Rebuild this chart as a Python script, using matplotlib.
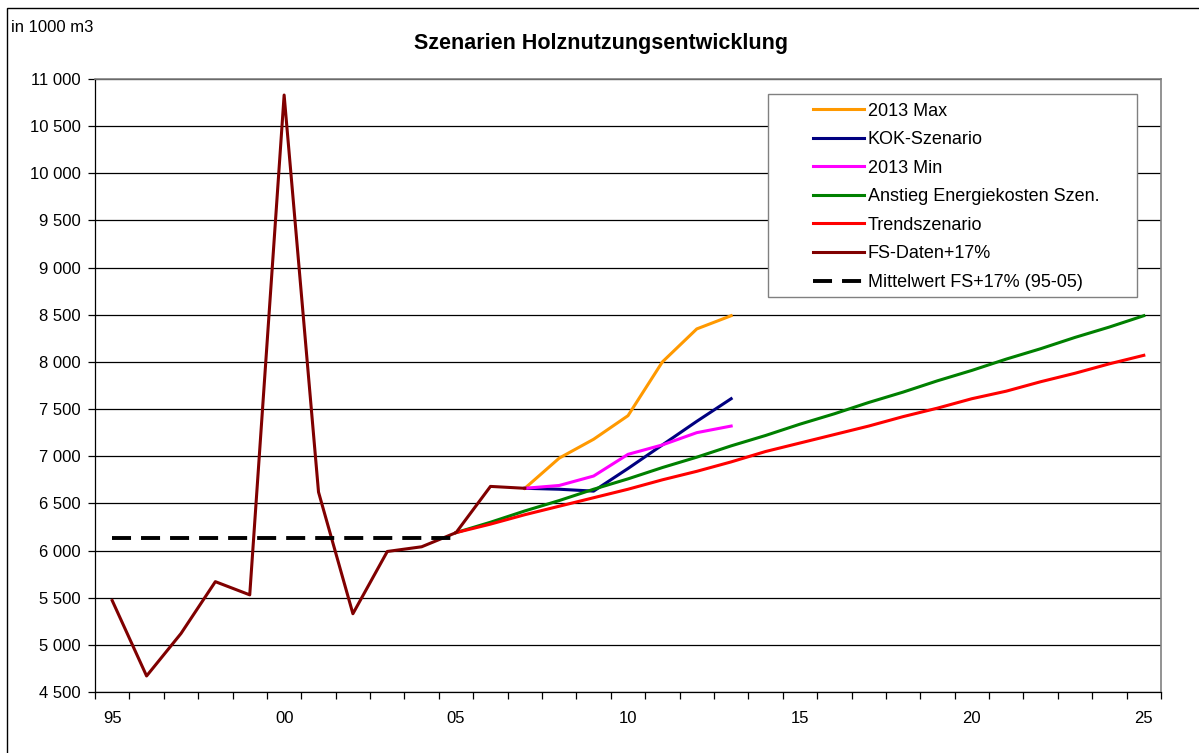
#!/usr/bin/env python3
"""
Szenarien Holznutzungsentwicklung - Excel style line chart.

Writes:
    out.png
"""

import matplotlib
matplotlib.use("Agg")
import matplotlib.pyplot as plt
from matplotlib.patches import Rectangle
from matplotlib.ticker import FuncFormatter, FixedLocator


# FS data (+17%), 1995-2007
FS_YEARS = list(range(1995, 2008))
FS_VALUES = [5470, 4670, 5120, 5670, 5530, 10830, 6620, 5330, 5990, 6040, 6190, 6680, 6660]

# short scenarios 2007-2013
SHORT_YEARS = list(range(2007, 2014))
MAX_2013 = [6660, 6980, 7180, 7430, 8000, 8350, 8490]
KOK_SCEN = [6660, 6650, 6630, 6870, 7120, 7370, 7610]
MIN_2013 = [6660, 6690, 6790, 7020, 7120, 7250, 7320]

# long scenarios 2005-2025
LONG_YEARS = list(range(2005, 2026))
ENERGY_SCEN = [6190, 6300, 6420, 6530, 6650, 6760, 6880, 6990, 7110, 7220, 7340,
               7450, 7570, 7680, 7800, 7910, 8030, 8140, 8260, 8370, 8490]
TREND_SCEN = [6190, 6280, 6380, 6470, 6560, 6650, 6750, 6840, 6940, 7050, 7140,
              7230, 7320, 7420, 7510, 7610, 7690, 7790, 7880, 7980, 8070]

MEAN_YEARS = [1995, 2005]

LABEL_YEARS = [1995, 2000, 2005, 2010, 2015, 2020, 2025]
LABEL_TEXTS = ["95", "00", "05", "10", "15", "20", "25"]

W, H = 1199, 753


def fx(px):
    return px / W


def fy(py):
    return 1 - py / H


def thousands(v, _pos):
    return f"{int(v):,}".replace(",", " ")


def main() -> None:
    plt.rcParams["font.family"] = ["Liberation Sans", "DejaVu Sans"]

    fig = plt.figure(figsize=(W / 100, H / 100), dpi=100)
    ax = fig.add_axes([fx(95), fy(692), fx(1161) - fx(95), fy(79) - fy(692)])

    # outer chart border (only left/top visible in the picture)
    fig.patches.append(Rectangle((fx(7), fy(900)), 1.2, fy(8) - fy(900),
                                 transform=fig.transFigure, fill=False,
                                 edgecolor="black", linewidth=1.0))

    lw = 2.2
    mean_val = sum(FS_VALUES[:11]) / 11

    ax.plot(SHORT_YEARS, MAX_2013, color="#FF9900", lw=lw, label="2013 Max")
    ax.plot(SHORT_YEARS, KOK_SCEN, color="#000080", lw=lw, label="KOK-Szenario")
    ax.plot(SHORT_YEARS, MIN_2013, color="#FF00FF", lw=lw, label="2013 Min")
    ax.plot(LONG_YEARS, ENERGY_SCEN, color="#008000", lw=lw, label="Anstieg Energiekosten Szen.")
    ax.plot(LONG_YEARS, TREND_SCEN, color="#FF0000", lw=lw, label="Trendszenario")
    ax.plot(FS_YEARS, FS_VALUES, color="#800000", lw=lw, label="FS-Daten+17%")
    dlw = 2.8
    ax.plot(MEAN_YEARS, [mean_val, mean_val], color="black", lw=dlw,
            linestyle=(0, (13.7 / dlw, 7.2 / dlw)), label="Mittelwert FS+17% (95-05)")

    ax.set_xlim(1994.5, 2025.5)
    ax.set_ylim(4500, 11000)

    # y axis
    ax.set_yticks(range(4500, 11001, 500))
    ax.yaxis.set_major_formatter(FuncFormatter(thousands))
    ax.grid(axis="y", color="black", linewidth=0.9)
    ax.set_axisbelow(True)
    ax.tick_params(axis="y", direction="out", length=5, width=0.9, pad=5.5, labelsize=12)

    # x axis: labels at category centres, tick marks between categories
    ax.set_xticks(LABEL_YEARS)
    ax.set_xticklabels(LABEL_TEXTS)
    ax.xaxis.set_minor_locator(FixedLocator([1994.5 + k for k in range(32)]))
    ax.tick_params(axis="x", which="major", length=0, pad=14, labelsize=12)
    ax.tick_params(axis="x", which="minor", direction="out", length=5, width=0.9)

    for side in ("top", "right"):
        ax.spines[side].set_color("#808080")
        ax.spines[side].set_linewidth(1.2)
    for side in ("left", "bottom"):
        ax.spines[side].set_color("black")
        ax.spines[side].set_linewidth(0.9)

    # legend with a separate frame
    frame = Rectangle((fx(768), fy(297)), fx(1137) - fx(768), fy(94) - fy(297),
                      transform=fig.transFigure, facecolor="white",
                      edgecolor="#808080", linewidth=1.0, zorder=4, clip_on=False)
    ax.add_artist(frame)
    leg = ax.legend(loc="upper left", bbox_to_anchor=(fx(813), fy(102.5)),
                    bbox_transform=fig.transFigure, frameon=False, fontsize=13,
                    handlelength=2.82, handletextpad=0.22, labelspacing=0.64,
                    borderpad=0, borderaxespad=0)
    leg.set_zorder(5)

    fig.text(fx(601), fy(43), "Szenarien Holznutzungsentwicklung", ha="center",
             va="center", fontsize=15.5, fontweight="bold")
    fig.text(fx(11), fy(27), "in 1000 m3", ha="left", va="center", fontsize=12)

    fig.savefig("out.png", dpi=100)
    plt.close(fig)


if __name__ == "__main__":
    main()
